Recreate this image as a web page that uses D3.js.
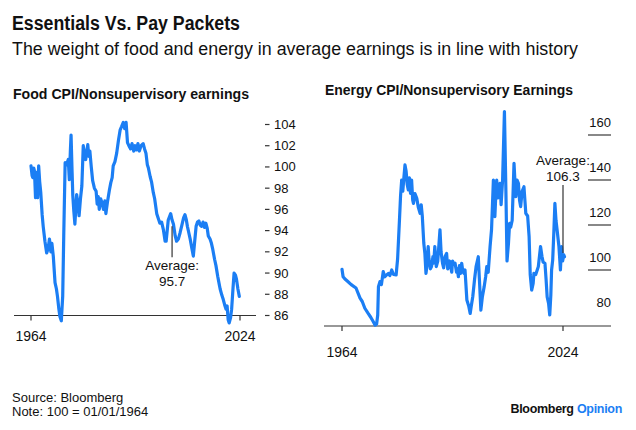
<!DOCTYPE html>
<html>
<head>
<meta charset="utf-8">
<script src="https://cdn.jsdelivr.net/npm/d3@7/dist/d3.min.js"></script>
<style>
  html, body { margin: 0; padding: 0; background: #fff; }
  svg { display: block; font-family: "Liberation Sans", Arial, Helvetica, sans-serif; }
</style>
</head>
<body>
<svg id="chart" width="636" height="430"></svg>
<script>
// ---------- DATA ----------
const titleText = "Essentials Vs. Pay Packets";
const subtitleText = "The weight of food and energy in average earnings is in line with history";
const foodTitle = "Food CPI/Nonsupervisory earnings";
const energyTitle = "Energy CPI/Nonsupervisory Earnings";
const sourceText = "Source: Bloomberg";
const noteText = "Note: 100 = 01/01/1964";

const xTickYears = [1964, 2024];
const xTickLabels = ["1964", "2024"];
const foodTicks = [86, 88, 90, 92, 94, 96, 98, 100, 102, 104];
const energyTicks = [80, 100, 120, 140, 160];

const foodYears = [
 1964.0,1964.3,1964.5,1964.8,1965.0,1965.3,1965.6,1965.9,1966.2,1966.5,1966.8,1967.2,1967.5,1968.0,1968.5,1968.9,
 1969.3,1969.7,1970.0,1970.4,1970.9,1971.3,1971.6,1972.0,1972.3,1972.7,1973.1,1973.4,1973.8,1974.2,1974.7,1975.0,
 1975.3,1975.5,1975.8,1976.0,1976.3,1976.6,1977.1,1977.5,1977.8,1978.2,1978.6,1979.0,1979.3,1979.7,1980.0,1980.3,
 1980.6,1980.9,1981.3,1981.7,1982.2,1982.7,1983.0,1983.3,1983.6,1984.0,1984.4,1984.8,1985.2,1985.5,1986.0,1986.5,
 1986.9,1987.3,1987.6,1988.1,1988.6,1989.1,1989.6,1990.0,1990.5,1990.9,1991.3,1991.7,1992.1,1992.6,1993.0,1993.5,
 1993.9,1994.3,1994.7,1995.1,1995.6,1996.2,1996.6,1997.0,1997.4,1997.7,1998.2,1998.6,1999.1,1999.5,2000.1,2000.5,
 2001.0,2001.5,2002.0,2002.5,2002.8,2003.4,2004.1,2004.5,2004.9,2005.4,2005.8,2006.3,2006.8,2007.3,2007.8,2008.2,
 2008.6,2008.9,2009.3,2009.7,2010.2,2010.6,2011.0,2011.4,2011.8,2012.2,2012.6,2013.0,2013.4,2013.8,2014.2,2014.6,
 2014.9,2015.4,2015.8,2016.2,2016.7,2017.1,2017.6,2018.0,2018.3,2018.8,2019.2,2019.6,2020.0,2020.3,2020.6,2020.9,
 2021.3,2021.6,2022.0,2022.3,2022.7,2023.0,2023.4,2023.8
];
const foodValues = [
 100.1,99.2,99.0,99.9,99.6,97.1,99.5,97.1,100.1,98.6,97.6,95.5,94.4,93.0,91.9,92.3,
 93.2,92.0,92.8,91.6,89.1,88.5,87.8,86.6,85.9,85.5,87.8,93.5,100.4,100.2,100.7,98.8,
 101.5,103.0,99.5,97.3,95.8,94.6,97.4,96.5,95.4,97.0,98.2,102.0,101.2,100.7,101.5,102.1,
 101.0,101.5,100.0,98.7,98.0,97.7,96.5,97.2,96.0,97.0,96.6,96.0,96.8,95.6,96.8,97.8,
 98.5,99.0,100.1,100.5,101.3,102.5,103.5,103.8,104.2,103.6,104.2,102.3,102.0,101.7,102.2,101.5,
 102.0,101.6,102.2,101.5,102.0,102.2,101.7,101.3,100.2,99.9,99.1,98.6,97.6,97.0,95.6,95.2,
 94.7,94.8,94.1,93.0,93.0,95.0,95.6,95.0,94.6,93.5,93.0,93.2,93.8,94.5,95.2,95.5,
 95.0,94.4,93.8,93.2,92.3,91.6,93.0,94.4,94.8,94.9,94.5,94.4,94.8,94.3,94.7,94.2,
 93.5,93.2,92.8,92.2,91.3,90.7,89.7,89.0,88.5,87.9,87.5,87.0,86.6,86.9,85.6,85.3,
 85.8,86.6,88.6,90.0,89.8,89.4,88.5,87.8
];

const energyYears = [
 1964.0,1964.3,1964.8,1965.5,1966.5,1967.8,1968.9,1969.5,1970.2,1971.1,1971.8,1972.5,1973.0,1973.4,1973.7,1973.9,
 1974.3,1974.7,1975.2,1975.6,1976.1,1976.6,1977.0,1977.5,1978.0,1978.7,1979.1,1979.6,1979.9,1980.2,1980.5,1980.8,
 1981.1,1981.4,1981.7,1982.0,1982.3,1982.6,1982.9,1983.2,1983.4,1983.8,1984.3,1984.7,1985.2,1985.5,1985.8,1986.2,
 1986.5,1986.8,1987.0,1987.4,1987.6,1988.0,1988.3,1988.7,1988.9,1989.2,1989.6,1990.0,1990.6,1990.9,1991.3,1991.6,
 1992.0,1992.4,1992.7,1993.2,1993.5,1993.8,1994.0,1994.4,1994.7,1995.1,1995.3,1995.6,1995.9,1996.2,1996.5,1996.8,
 1997.1,1997.4,1997.9,1998.4,1998.8,1999.1,1999.5,2000.0,2000.4,
 2001.0,2001.3,2001.7,2002.1,2002.6,2003.0,2003.3,2003.7,2004.2,2004.6,2005.1,2005.3,2005.5,2005.8,2006.0,2006.3,
 2006.6,2006.9,2007.2,2007.6,2008.1,2008.5,2008.8,2009.2,2009.5,2009.8,2010.2,2010.7,2011.0,2011.2,2011.5,2011.9,
 2012.2,2012.5,2012.9,2013.4,2013.7,2013.9,2014.4,2014.8,2015.1,2015.5,2015.9,2016.1,2016.6,2017.0,2017.3,2017.9,
 2018.3,2018.6,2019.1,2019.4,2019.7,2020.1,2020.4,2020.7,2020.9,2021.2,2021.5,2021.8,2022.1,2022.4,2022.9,2023.3,
 2023.6,2023.9,2024.2,2024.4
];
const energyValues = [
 100.3,97.0,96.0,95.0,93.5,92.0,87.5,86.0,83.0,80.7,79.0,77.0,75.5,76.0,80.0,92.6,
 94.8,93.5,99.3,97.0,97.8,98.5,97.5,100.0,98.0,97.8,105.0,122.2,133.0,140.0,135.0,141.0,
 146.7,144.0,138.0,135.6,141.0,134.0,140.0,131.0,129.6,134.0,131.9,128.0,125.2,129.0,124.0,112.0,
 107.4,98.5,101.0,110.4,105.0,100.5,101.5,106.0,103.0,110.4,101.5,104.0,117.8,108.0,103.0,101.0,
 106.0,107.4,100.5,104.0,101.5,99.0,104.0,102.5,103.0,99.0,100.5,97.0,102.0,98.5,103.0,99.5,
 98.5,100.0,86.7,84.0,80.7,84.0,88.1,96.0,101.5,
 105.9,96.0,82.2,88.0,92.6,97.0,101.5,99.0,110.4,118.0,140.0,128.0,123.7,135.0,140.0,132.0,
 136.0,138.5,129.0,140.0,170.4,135.0,104.0,112.0,120.7,119.0,122.0,147.4,138.0,132.6,140.0,138.5,
 131.0,128.2,135.0,137.0,130.0,125.2,124.0,114.8,98.0,91.1,94.0,98.5,98.0,100.0,101.5,110.4,
 106.0,103.5,103.0,96.0,88.0,85.0,80.0,89.0,100.0,104.4,116.3,129.6,122.0,117.8,110.4,100.0,
 110.4,104.0,106.7,105.9
];

const foodAverage = { year: 2004.5, lineFrom: 94.4, lineTo: 91.5, label1: "Average:", label2: "95.7", at1: 90.3, at2: 88.8 };
const energyAverage = { year: 2024.0, lineFrom: 107.6, lineTo: 137.8, label1: "Average:", label2: "106.3", at1: 146.7, at2: 139.7 };

// ---------- DRAW ----------
const BLUE = "#1b7ef4";
const INK = "#111";
const svg = d3.select("#chart");
svg.append("rect").attr("width", 636).attr("height", 430).attr("fill", "#fff");

function fitText(sel, w) {
  sel.attr("textLength", w).attr("lengthAdjust", "spacingAndGlyphs");
}

svg.append("text").attr("x", 12).attr("y", 30).attr("font-size", 19.5).attr("font-weight", 700)
  .attr("fill", INK).text(titleText).call(fitText, 228);
svg.append("text").attr("x", 12).attr("y", 55).attr("font-size", 17.5)
  .attr("fill", INK).text(subtitleText).call(fitText, 566);

// ---- Left: food ----
const xF = d3.scaleLinear().domain([1964, 2024]).range([31, 240]);
const yF = d3.scaleLinear().domain([86, 104]).range([315.5, 124.5]);
const foodData = foodYears.map((t, i) => ({ t, v: foodValues[i] }));

svg.append("text").attr("x", 13).attr("y", 99).attr("font-size", 14).attr("font-weight", 700)
  .attr("fill", INK).text(foodTitle).call(fitText, 236);

const gF = svg.append("g");
gF.append("line").attr("x1", 14).attr("x2", 256).attr("y1", yF(86)).attr("y2", yF(86))
  .attr("stroke", "#333").attr("stroke-width", 1.2);
xTickYears.forEach((yr, i) => {
  gF.append("line").attr("x1", xF(yr)).attr("x2", xF(yr)).attr("y1", yF(86)).attr("y2", yF(86) + 5)
    .attr("stroke", "#333").attr("stroke-width", 1.2);
  gF.append("text").attr("x", xF(yr)).attr("y", 341).attr("text-anchor", "middle")
    .attr("font-size", 14).attr("fill", INK).text(xTickLabels[i]);
});
foodTicks.forEach(v => {
  gF.append("line").attr("x1", 265).attr("x2", 269.5).attr("y1", yF(v)).attr("y2", yF(v))
    .attr("stroke", "#333").attr("stroke-width", 1.2);
  gF.append("text").attr("x", 274).attr("y", yF(v) + 4.5).attr("font-size", 13)
    .attr("fill", INK).text(v);
});
gF.append("path").datum(foodData)
  .attr("d", d3.line().x(d => xF(d.t)).y(d => yF(d.v)))
  .attr("fill", "none").attr("stroke", BLUE).attr("stroke-width", 3.2)
  .attr("stroke-linejoin", "round").attr("stroke-linecap", "round");
gF.append("line").attr("x1", xF(foodAverage.year)).attr("x2", xF(foodAverage.year))
  .attr("y1", yF(foodAverage.lineFrom)).attr("y2", yF(foodAverage.lineTo))
  .attr("stroke", "#333").attr("stroke-width", 1.2);
gF.append("text").attr("x", xF(foodAverage.year)).attr("y", yF(foodAverage.at1)).attr("text-anchor", "middle")
  .attr("font-size", 13.5).attr("fill", INK).text(foodAverage.label1);
gF.append("text").attr("x", xF(foodAverage.year)).attr("y", yF(foodAverage.at2)).attr("text-anchor", "middle")
  .attr("font-size", 13.5).attr("fill", INK).text(foodAverage.label2);

// ---- Right: energy ----
const xE = d3.scaleLinear().domain([1964, 2024]).range([342, 563]);
const yE = d3.scaleLinear().domain([80, 160]).range([315, 135]);
const energyData = energyYears.map((t, i) => ({ t, v: energyValues[i] }));
const baseE = 326;

svg.append("text").attr("x", 325).attr("y", 95).attr("font-size", 14).attr("font-weight", 700)
  .attr("fill", INK).text(energyTitle).call(fitText, 248);

const gE = svg.append("g");
energyTicks.forEach(v => {
  if (v > 80) {
    gE.append("line").attr("x1", 588).attr("x2", 611).attr("y1", yE(v)).attr("y2", yE(v))
      .attr("stroke", "#555").attr("stroke-width", 1.4);
  }
  gE.append("text").attr("x", 611).attr("y", yE(v) - 8).attr("text-anchor", "end")
    .attr("font-size", 13).attr("fill", INK).text(v);
});
gE.append("line").attr("x1", 324).attr("x2", 611).attr("y1", baseE).attr("y2", baseE)
  .attr("stroke", "#333").attr("stroke-width", 1.2);
xTickYears.forEach((yr, i) => {
  gE.append("line").attr("x1", xE(yr)).attr("x2", xE(yr)).attr("y1", baseE).attr("y2", baseE + 5)
    .attr("stroke", "#333").attr("stroke-width", 1.2);
  gE.append("text").attr("x", xE(yr)).attr("y", 357).attr("text-anchor", "middle")
    .attr("font-size", 14).attr("fill", INK).text(xTickLabels[i]);
});
gE.append("path").datum(energyData)
  .attr("d", d3.line().x(d => xE(d.t)).y(d => yE(d.v)))
  .attr("fill", "none").attr("stroke", BLUE).attr("stroke-width", 3.2)
  .attr("stroke-linejoin", "round").attr("stroke-linecap", "round");
gE.append("line").attr("x1", xE(energyAverage.year)).attr("x2", xE(energyAverage.year))
  .attr("y1", yE(energyAverage.lineFrom)).attr("y2", yE(energyAverage.lineTo))
  .attr("stroke", "#333").attr("stroke-width", 1.2);
gE.append("text").attr("x", xE(energyAverage.year)).attr("y", yE(energyAverage.at1)).attr("text-anchor", "middle")
  .attr("font-size", 13.5).attr("fill", INK).text(energyAverage.label1);
gE.append("text").attr("x", xE(energyAverage.year)).attr("y", yE(energyAverage.at2)).attr("text-anchor", "middle")
  .attr("font-size", 13.5).attr("fill", INK).text(energyAverage.label2);

// ---- Footer ----
svg.append("text").attr("x", 12).attr("y", 402).attr("font-size", 13).attr("fill", INK).text(sourceText);
svg.append("text").attr("x", 12).attr("y", 416).attr("font-size", 13).attr("fill", INK).text(noteText);
const brand = svg.append("text").attr("x", 622).attr("y", 413).attr("text-anchor", "end")
  .attr("font-size", 12.5).attr("font-weight", 700).attr("letter-spacing", -0.3);
brand.append("tspan").attr("fill", INK).text("Bloomberg ");
brand.append("tspan").attr("fill", BLUE).attr("font-weight", 600).text("Opinion");
</script>
</body>
</html>
